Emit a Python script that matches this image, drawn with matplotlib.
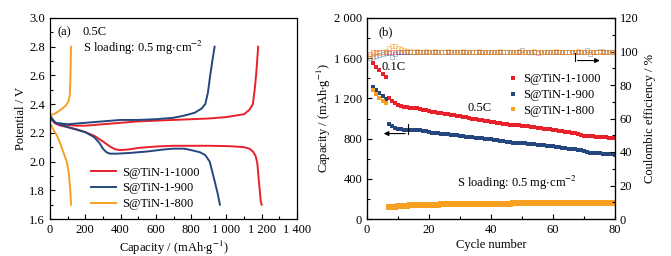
import matplotlib
matplotlib.use("Agg")
import matplotlib.pyplot as plt
from matplotlib.ticker import MultipleLocator, FuncFormatter

# ---------- data: (a) charge/discharge profiles at 0.5C ----------
red_dis_cap = [0, 10, 30, 60, 100, 150, 200, 250, 300, 340, 370, 400, 450, 500, 600, 700, 800, 900,
               1000, 1050, 1100, 1130, 1150, 1165, 1175, 1185, 1195, 1200]
red_dis_v = [2.32, 2.29, 2.265, 2.25, 2.24, 2.225, 2.205, 2.18, 2.14, 2.105, 2.085, 2.08, 2.085, 2.095,
             2.105, 2.11, 2.11, 2.11, 2.108, 2.105, 2.10, 2.09, 2.07, 2.04, 1.99, 1.85, 1.72, 1.70]
red_chg_cap = [0, 20, 50, 150, 200, 300, 400, 500, 600, 700, 800, 900, 950, 1000, 1050, 1100, 1130,
               1150, 1160, 1168, 1174, 1180]
red_chg_v = [2.31, 2.28, 2.26, 2.25, 2.25, 2.26, 2.27, 2.28, 2.285, 2.29, 2.295, 2.30, 2.305, 2.31,
             2.32, 2.33, 2.36, 2.40, 2.50, 2.60, 2.70, 2.80]

blue_dis_cap = [0, 30, 100, 200, 250, 280, 300, 320, 340, 380, 450, 550, 650, 700, 760, 800, 850,
                880, 905, 930, 950, 963]
blue_dis_v = [2.32, 2.27, 2.24, 2.205, 2.17, 2.13, 2.09, 2.065, 2.055, 2.055, 2.06, 2.07, 2.085,
              2.09, 2.09, 2.08, 2.065, 2.045, 2.00, 1.88, 1.78, 1.70]
blue_chg_cap = [0, 30, 100, 200, 300, 400, 500, 600, 700, 760, 820, 860, 880, 895, 908, 920, 933]
blue_chg_v = [2.31, 2.27, 2.26, 2.27, 2.28, 2.29, 2.29, 2.295, 2.305, 2.32, 2.34, 2.37, 2.40, 2.48,
              2.60, 2.70, 2.80]

orange_dis_cap = [0, 20, 40, 60, 80, 95, 105, 110, 115, 119]
orange_dis_v = [2.27, 2.22, 2.18, 2.12, 2.05, 2.00, 1.93, 1.87, 1.80, 1.70]
orange_chg_cap = [0, 30, 60, 90, 105, 112, 115, 117, 119]
orange_chg_v = [2.32, 2.335, 2.36, 2.39, 2.42, 2.46, 2.55, 2.65, 2.80]

# ---------- data: (b) cycling ----------
cycles_01c = [2, 3, 4, 5, 6]
red_01c = [1553, 1513, 1480, 1447, 1413]
blue_01c = [1313, 1285, 1250, 1220, 1190]
orange_01c = [1280, 1240, 1200, 1170, 1150]

cycles_05c = list(range(7, 81))
red_05c = [1200, 1170, 1150, 1135, 1125, 1115, 1110, 1105, 1100, 1100,
           1095, 1085, 1080, 1072, 1066, 1060, 1055, 1050, 1045, 1040,
           1035, 1030, 1025, 1020, 1015, 1010, 1005, 1000, 995, 990,
           985, 980, 975, 970, 965, 960, 955, 950, 945, 940,
           938, 935, 932, 930, 928, 925, 920, 915, 910, 905,
           900, 895, 892, 890, 885, 880, 875, 870, 865, 860,
           855, 850, 840, 830, 828, 825, 822, 820, 818, 815,
           812, 810, 808, 805]
blue_05c = [950, 925, 910, 900, 892, 885, 888, 890, 890, 890,
            888, 880, 872, 865, 860, 856, 852, 850, 847, 843,
            840, 836, 832, 828, 824, 820, 816, 812, 808, 805,
            802, 800, 797, 793, 789, 785, 780, 775, 770, 765,
            760, 756, 754, 755, 752, 750, 747, 744, 740, 736,
            733, 730, 727, 724, 719, 714, 709, 704, 700, 696,
            692, 688, 684, 680, 662, 660, 657, 655, 652, 650,
            648, 645, 642, 640]
orange_05c = [115, 120, 124, 127, 130, 132, 134, 136, 137, 138,
              139, 140, 141, 142, 143, 143, 144, 145, 145, 146,
              146, 147, 147, 148, 148, 149, 149, 150, 150, 151,
              151, 152, 152, 152, 153, 153, 153, 154, 154, 154,
              155, 155, 155, 156, 156, 156, 156, 157, 157, 157,
              157, 158, 158, 158, 158, 159, 159, 159, 159, 160,
              160, 160, 160, 160, 160, 161, 161, 161, 161, 161,
              161, 162, 162, 162]

cycles_ce = list(range(1, 81))
red_ce = [98.5, 99.5, 99.5, 99.5, 99.5, 99.5, 99.5, 99.5, 99.5, 99.5,
          99.5, 99.5, 99.5, 99.5, 99.5, 99.5, 99.5, 99.5, 99.5, 99.5,
          99.5, 99.5, 99.5, 99.5, 99.5, 99.5, 99.5, 99.5, 99.5, 99.5,
          99.5, 99.5, 99.5, 99.5, 99.5, 99.5, 99.5, 99.5, 99.5, 99.5,
          99.5, 99.5, 99.5, 99.5, 99.5, 99.5, 99.5, 99.5, 99.5, 99.5,
          99.5, 99.5, 99.5, 99.5, 99.0, 99.5, 99.5, 99.5, 99.5, 99.5,
          99.5, 99.5, 99.5, 99.5, 99.5, 99.5, 99.5, 99.5, 99.5, 99.5,
          99.5, 99.5, 99.5, 99.5, 99.5, 99.5, 99.5, 99.5, 99.5, 99.5]
blue_ce = [96.0, 97.0, 97.5, 98.0, 98.5, 99.0, 99.0, 96.5, 98.5, 99.5,
           100.0, 100.0, 99.5, 99.5, 100.0, 99.5, 99.5, 99.5, 99.5, 99.5,
           99.5, 99.5, 99.5, 99.5, 99.5, 99.5, 99.5, 99.5, 99.5, 99.5,
           99.5, 99.5, 99.5, 99.5, 99.5, 99.5, 99.5, 99.5, 99.5, 99.5,
           99.5, 100.0, 99.5, 99.5, 99.5, 99.5, 99.5, 99.5, 99.5, 101.0,
           99.5, 99.5, 99.5, 99.5, 99.5, 99.5, 99.5, 100.0, 99.5, 99.5,
           99.5, 99.5, 99.5, 99.5, 99.5, 99.5, 99.5, 99.5, 99.5, 99.5,
           101.0, 98.5, 99.5, 99.5, 100.5, 99.5, 99.5, 99.5, 99.5, 99.5]
orange_ce = [97.5, 98.5, 99.0, 99.0, 99.5, 100.5, 102.0, 103.5, 103.0, 102.0,
             101.5, 101.0, 100.5, 100.5, 100.0, 100.5, 100.0, 100.0, 100.5, 100.0,
             100.0, 100.5, 100.0, 100.0, 100.0, 100.5, 100.0, 100.0, 100.0, 100.0,
             100.5, 100.0, 100.0, 100.0, 100.0, 100.5, 100.0, 100.0, 100.0, 100.0,
             100.0, 100.0, 100.5, 100.0, 100.0, 100.0, 100.0, 100.0, 100.5, 100.0,
             100.0, 100.0, 100.0, 100.5, 100.0, 100.0, 100.0, 100.0, 100.0, 100.0,
             100.5, 100.0, 100.0, 100.0, 100.0, 100.0, 100.0, 100.5, 100.0, 100.0,
             100.0, 100.0, 100.0, 100.0, 100.0, 100.5, 100.0, 100.0, 100.0, 100.0]

labels = ["S@TiN-1-1000", "S@TiN-1-900", "S@TiN-1-800"]
RED, BLUE, ORANGE = "#e8202a", "#24477e", "#f7a021"

plt.rcParams["font.family"] = ["Liberation Serif", "DejaVu Serif"]
plt.rcParams["mathtext.fontset"] = "stix"
plt.rcParams["font.size"] = 9
FS = 9
loading = r"S loading: 0.5 mg$\cdot$cm$^{-2}$"
cap_label = r"Capacity / (mAh$\cdot$g$^{-1}$)"


def space_thousands(v, pos):
    s = f"{int(round(v))}"
    if len(s) > 3:
        s = s[:-3] + " " + s[-3:]
    return s


def style_ticks(ax):
    ax.tick_params(which="both", direction="in", labelsize=FS, top=False, right=False)
    ax.tick_params(which="major", length=3.5, width=0.8)
    ax.tick_params(which="minor", length=2, width=0.8)
    for sp in ax.spines.values():
        sp.set_linewidth(0.9)


fig = plt.figure(figsize=(6.71, 2.56), dpi=100)
ax1 = fig.add_axes([50 / 671, 37 / 256, 247 / 671, 201 / 256])
ax2 = fig.add_axes([367 / 671, 37 / 256, 248 / 671, 201 / 256])

# ----- panel (a) -----
lw = 1.4
ax1.plot(red_dis_cap, red_dis_v, color=RED, lw=lw, label=labels[0])
ax1.plot(red_chg_cap, red_chg_v, color=RED, lw=lw)
ax1.plot(blue_dis_cap, blue_dis_v, color=BLUE, lw=lw, label=labels[1])
ax1.plot(blue_chg_cap, blue_chg_v, color=BLUE, lw=lw)
ax1.plot(orange_dis_cap, orange_dis_v, color=ORANGE, lw=lw, label=labels[2])
ax1.plot(orange_chg_cap, orange_chg_v, color=ORANGE, lw=lw)
ax1.set_xlim(0, 1400)
ax1.set_ylim(1.6, 3.0)
ax1.xaxis.set_major_locator(MultipleLocator(200))
ax1.xaxis.set_minor_locator(MultipleLocator(100))
ax1.yaxis.set_major_locator(MultipleLocator(0.2))
ax1.yaxis.set_minor_locator(MultipleLocator(0.1))
ax1.xaxis.set_major_formatter(FuncFormatter(space_thousands))
ax1.yaxis.set_major_formatter(FuncFormatter(lambda v, p: f"{v:.1f}"))
style_ticks(ax1)
ax1.set_xlabel(cap_label, fontsize=FS, labelpad=2)
ax1.set_ylabel("Potential / V", fontsize=FS, labelpad=2)
ax1.text(0.032, 0.93, "(a)", transform=ax1.transAxes, fontsize=FS, va="center")
ax1.text(0.132, 0.93, "0.5C", transform=ax1.transAxes, fontsize=FS, va="center")
ax1.text(0.132, 0.85, loading, transform=ax1.transAxes, fontsize=FS, va="center")
ax1.legend(loc="lower left", bbox_to_anchor=(0.13, 0.0), frameon=False, fontsize=FS,
           handlelength=2.0, handletextpad=0.5, labelspacing=0.3, borderaxespad=0.3)

# ----- panel (b) -----
ms = 3.5
ax2.plot(cycles_01c, red_01c, "s", color=RED, ms=ms, mew=0, label=labels[0])
ax2.plot(cycles_05c, red_05c, "s", color=RED, ms=ms, mew=0)
ax2.plot(cycles_01c, blue_01c, "s", color=BLUE, ms=ms, mew=0, label=labels[1])
ax2.plot(cycles_05c, blue_05c, "s", color=BLUE, ms=ms, mew=0)
ax2.plot(cycles_01c, orange_01c, "s", color=ORANGE, ms=ms, mew=0, label=labels[2])
ax2.plot(cycles_05c, orange_05c, "s", color=ORANGE, ms=4.0, mew=0)
ax2.set_xlim(0, 80)
ax2.set_ylim(0, 2000)
ax2.xaxis.set_major_locator(MultipleLocator(20))
ax2.xaxis.set_minor_locator(MultipleLocator(10))
ax2.yaxis.set_major_locator(MultipleLocator(400))
ax2.yaxis.set_minor_locator(MultipleLocator(200))
ax2.yaxis.set_major_formatter(FuncFormatter(space_thousands))
style_ticks(ax2)
ax2.set_xlabel("Cycle number", fontsize=FS, labelpad=2)
ax2.set_ylabel(cap_label, fontsize=FS, labelpad=1)

ax2.annotate("", xy=(4.5, 850), xytext=(13.2, 850),
             arrowprops=dict(arrowstyle="-|>", color="black", lw=0.8, mutation_scale=7))
ax2.plot([13.2, 13.2], [850, 945], color="black", lw=0.8)

ax2.text(0.046, 0.93, "(b)", transform=ax2.transAxes, fontsize=FS, va="center")
ax2.text(0.06, 0.758, "0.1C", transform=ax2.transAxes, fontsize=FS, va="center")
ax2.text(0.405, 0.552, "0.5C", transform=ax2.transAxes, fontsize=FS, va="center")
ax2.text(0.362, 0.179, loading, transform=ax2.transAxes, fontsize=FS, va="center")
ax2.legend(loc="upper left", bbox_to_anchor=(0.55, 0.75), frameon=False, fontsize=FS,
           numpoints=1, handlelength=0.8, handletextpad=0.4, labelspacing=0.3,
           borderaxespad=0.0, markerscale=0.85)

ax3 = ax2.twinx()
ax3.plot(cycles_ce, red_ce, "s", mfc="none", mec=RED, ms=3.4, mew=0.5, alpha=0.5)
ax3.plot(cycles_ce, blue_ce, "s", mfc="none", mec=BLUE, ms=3.4, mew=0.5, alpha=0.45)
ax3.plot(cycles_ce, orange_ce, "s", mfc="none", mec=ORANGE, ms=3.4, mew=0.6, alpha=0.6)
ax3.set_ylim(0, 120)
ax3.yaxis.set_major_locator(MultipleLocator(20))
ax3.yaxis.set_minor_locator(MultipleLocator(10))
ax3.tick_params(which="both", direction="in", labelsize=FS)
ax3.tick_params(which="major", length=3.5, width=0.8)
ax3.tick_params(which="minor", length=2, width=0.8)
ax3.set_ylabel("Coulombic efficiency / %", fontsize=FS, labelpad=4)
ax3.annotate("", xy=(76, 94.6), xytext=(67, 94.6),
             arrowprops=dict(arrowstyle="-|>", color="black", lw=0.8, mutation_scale=7))
ax3.plot([67, 67], [94.6, 99], color="black", lw=0.8)

fig.savefig("out.png", dpi=100)
